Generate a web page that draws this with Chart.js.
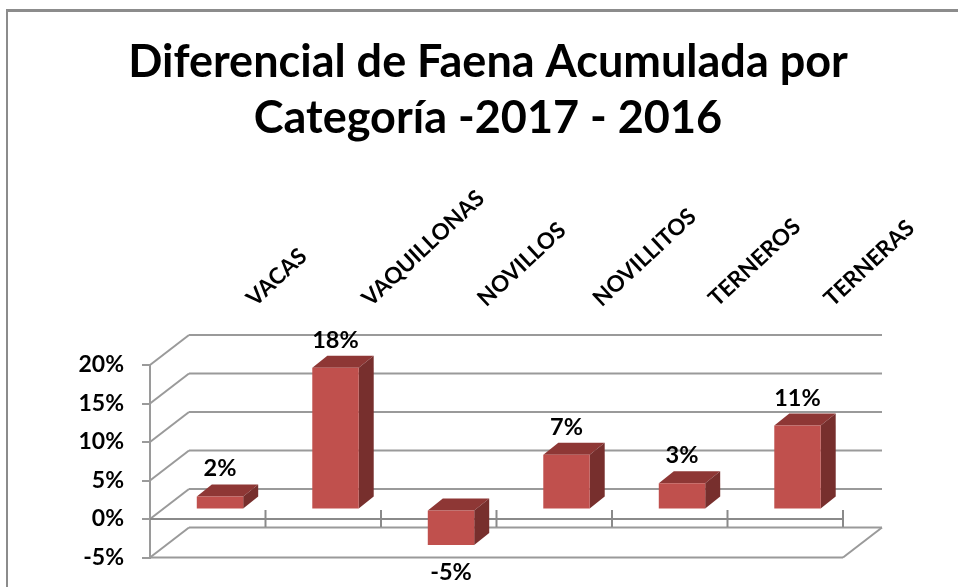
<!DOCTYPE html>
<html>
<head>
<meta charset="utf-8">
<title>Diferencial de Faena</title>
<script src="https://cdn.jsdelivr.net/npm/chart.js@4"></script>
<style>
  html, body { margin: 0; padding: 0; background: #fff; overflow: hidden; }
  #frame { position: absolute; left: 6px; top: 9px; width: 960px; height: 590px; border-left: 2px solid #8c8c8c; border-top: 3px solid #8c8c8c; }
  #chart { position: absolute; left: 0; top: 0; }
</style>
</head>
<body>
<div id="frame"></div>
<canvas id="chart" width="958" height="587"></canvas>
<script>
const categories = ['VACAS', 'VAQUILLONAS', 'NOVILLOS', 'NOVILLITOS', 'TERNEROS', 'TERNERAS'];
const values = [1.7, 18.4, -4.6, 7.1, 3.4, 10.9];
const titleLines = ['Diferencial de Faena Acumulada por', 'Categoría -2017 - 2016'];

const fontName = 'Lato, "Noto Sans", sans-serif';
const gridColor = '#9a9a9a';
const wallDepth = { x: 39, y: 30 };   // how far the back wall sits from the front plane
const barShift = { x: 12.25, y: 9.5 }; // bars stand in the middle of the floor
const barDepth = { x: 15, y: 12 };

function line(ctx, x1, y1, x2, y2) {
    ctx.beginPath();
    ctx.moveTo(x1, y1);
    ctx.lineTo(x2, y2);
    ctx.stroke();
}

function poly(ctx, color, points) {
    ctx.fillStyle = color;
    ctx.beginPath();
    points.forEach((p, i) => i ? ctx.lineTo(p[0], p[1]) : ctx.moveTo(p[0], p[1]));
    ctx.closePath();
    ctx.fill();
}

// --- 3D walls, floor and category ticks, all from the scales ---
const wallsPlugin = {
    id: 'walls',
    beforeDatasetsDraw(chart) {
        const { ctx, scales: { x, y } } = chart;
        const left = x.left;
        const right = x.right;
        ctx.save();
        ctx.strokeStyle = gridColor;
        ctx.lineWidth = 2;
        y.ticks.forEach((tick) => {
            const py = y.getPixelForValue(tick.value);
            line(ctx, left, py, left + wallDepth.x, py - wallDepth.y);
            line(ctx, left + wallDepth.x, py - wallDepth.y, right + wallDepth.x, py - wallDepth.y);
        });
        const zero = y.getPixelForValue(0);
        const floor = y.getPixelForValue(y.min);
        line(ctx, left, floor, right, floor);
        line(ctx, right, floor, right + wallDepth.x, floor - wallDepth.y);
        ctx.strokeStyle = '#8a8a8a';
        line(ctx, left, zero, right, zero);
        const step = (right - left) / categories.length;
        categories.forEach((c, i) => {
            const px = x.getPixelForValue(i) + step / 2;
            line(ctx, px, zero - 9, px, zero + 8);
        });
        ctx.restore();
    }
};

// --- bars are drawn by Chart.js, moved back onto the floor, with side and top added ---
const barsPlugin = {
    id: 'bars3d',
    beforeDatasetDraw(chart, args) {
        const { ctx } = chart;
        ctx.save();
        ctx.translate(barShift.x, -barShift.y);
        args.meta.data.forEach((bar) => {
            const l = bar.x - bar.width / 2;
            const r = bar.x + bar.width / 2;
            const top = Math.min(bar.y, bar.base);
            const bottom = Math.max(bar.y, bar.base);
            poly(ctx, '#8e3735', [[l, top], [l + barDepth.x, top - barDepth.y], [r + barDepth.x, top - barDepth.y], [r, top]]);
            poly(ctx, '#772f2d', [[r, top], [r + barDepth.x, top - barDepth.y], [r + barDepth.x, bottom - barDepth.y], [r, bottom]]);
        });
    },
    afterDatasetDraw(chart) {
        chart.ctx.restore();
    },
    afterDatasetsDraw(chart) {
        const { ctx } = chart;
        const meta = chart.getDatasetMeta(0);
        ctx.save();
        ctx.fillStyle = '#000';
        ctx.font = 'bold 23.5px ' + fontName;
        ctx.textAlign = 'center';
        ctx.textBaseline = 'alphabetic';
        values.forEach((v, i) => {
            const bar = meta.data[i];
            const py = v < 0 ? bar.y + 35 : bar.y - 20;
            ctx.fillText(Math.round(v) + '%', bar.x + barShift.x, py - barShift.y);
        });
        ctx.restore();
    }
};

// the title is centred on the picture's frame, not on the plot
const titlePlugin = {
    id: 'titleCentre',
    afterLayout(chart) {
        chart.titleBlock.left = 0;
        chart.titleBlock.right = 976;
    }
};

new Chart(document.getElementById('chart'), {
    type: 'bar',
    data: {
        labels: categories,
        datasets: [{
            data: values,
            backgroundColor: '#c0504d',
            borderWidth: 0,
            barPercentage: 1,
            categoryPercentage: 0.402,
            clip: false
        }]
    },
    plugins: [wallsPlugin, barsPlugin, titlePlugin],
    options: {
        responsive: false,
        animation: false,
        layout: { padding: { left: 0, right: 115, top: 0, bottom: 29.5 } },
        plugins: {
            legend: { display: false },
            tooltip: { enabled: false },
            title: {
                display: true,
                text: titleLines,
                color: '#000',
                font: { family: fontName, size: 45, weight: 'bold', lineHeight: 1.23 },
                padding: { top: 35, bottom: 10 }
            }
        },
        scales: {
            x: {
                position: 'top',
                grid: { display: false },
                border: { display: false },
                ticks: {
                    color: '#000',
                    font: { family: fontName, size: 22.5, weight: 'bold' },
                    minRotation: 43,
                    maxRotation: 43,
                    autoSkip: false,
                    labelOffset: 61,
                    padding: 45
                },
                afterFit(scale) { scale.height = 209.3; }
            },
            y: {
                min: -5,
                max: 20,
                grid: { drawOnChartArea: false, drawTicks: true, tickLength: 8, color: gridColor, lineWidth: 2 },
                border: { display: true, color: gridColor, width: 2 },
                ticks: {
                    stepSize: 5,
                    color: '#000',
                    font: { family: fontName, size: 23, weight: 'bold' },
                    padding: 18,
                    callback: (v) => v + '%'
                },
                afterFit(scale) {
                    scale.width = 150;
                    scale.paddingTop = 0;
                    scale.paddingBottom = 0;
                }
            }
        }
    }
});
</script>
</body>
</html>
